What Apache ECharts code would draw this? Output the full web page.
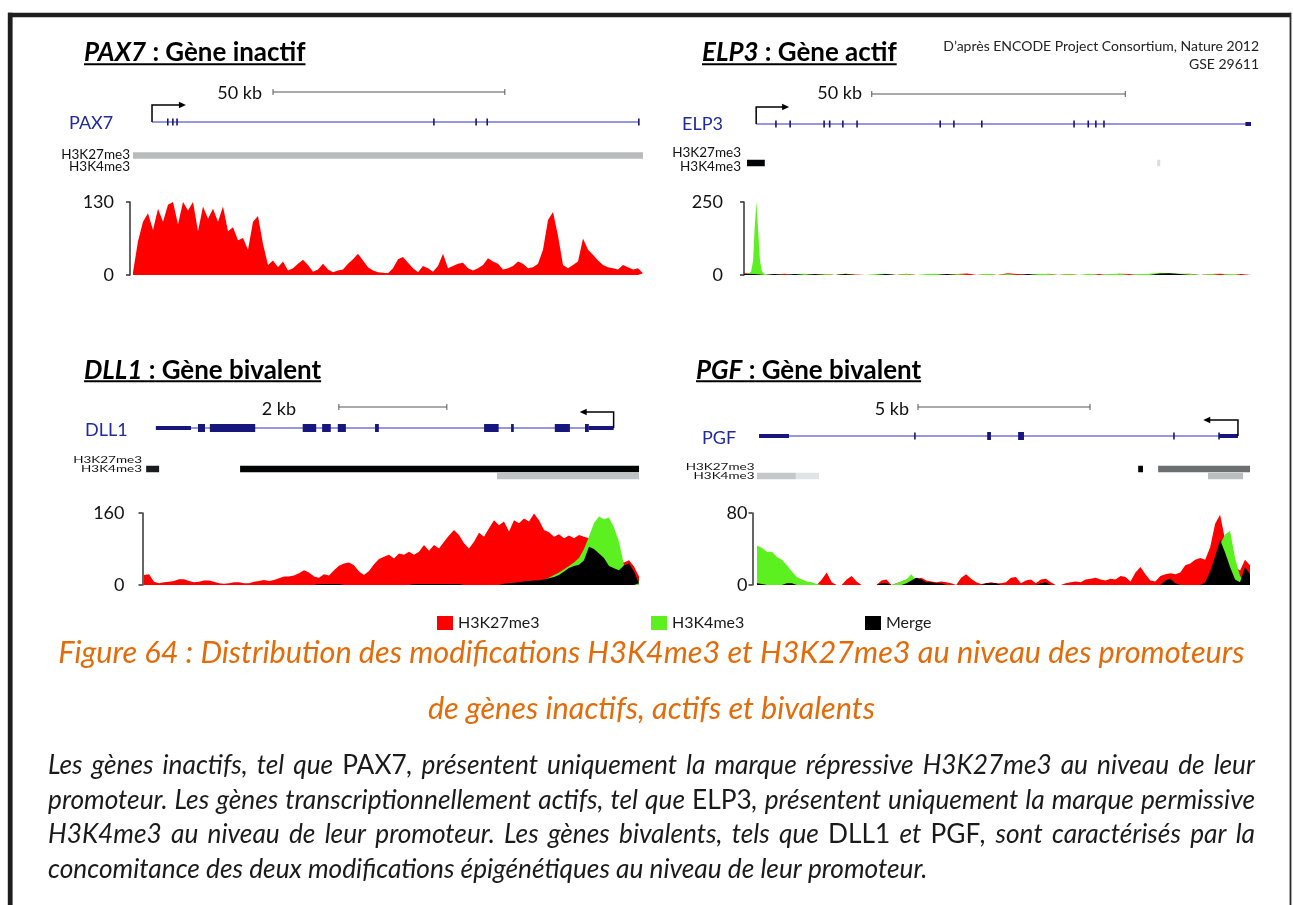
<!DOCTYPE html>
<html><head><meta charset="utf-8">
<script src="https://cdn.jsdelivr.net/npm/echarts@6/dist/echarts.min.js"></script>
<style>html,body{margin:0;padding:0;background:#fff}#c{width:1293px;height:905px}</style>
</head><body><div id="c"></div>
<script>
// ================= DATA =================
const legendNames = ['H3K27me3', 'H3K4me3', 'Merge'];
const chartMax = [130, 250, 160, 80];            // y-axis tick labels: 0 and max

// ---- PAX7 (inactive) : H3K27me3 signal, uniform samples across the window
const pax7Red = [5,60,95,110,80,118,95,125,130,90,
  130,115,130,78,122,100,118,95,122,78,
  85,62,66,45,95,105,55,18,26,14,
  24,8,12,20,27,18,6,10,20,10,
  5,8,10,20,28,38,26,14,8,5,
  4,3,12,28,32,22,12,5,16,12,
  6,16,38,12,16,20,22,12,8,12,
  18,30,24,20,10,12,16,24,20,12,
  14,20,45,98,112,70,18,12,18,24,
  65,45,36,26,18,14,12,10,18,14,
  10,12,3];

// ---- ELP3 (active) : H3K4me3 promoter peak (kb, value) + low background every 2 kb
const elp3PeakKb  = [0, 1.0, 1.4, 1.8, 2.1, 2.43, 2.8, 3.15, 3.5, 3.9, 4.4];
const elp3PeakVal = [4, 4, 12, 50, 160, 250, 150, 50, 14, 5, 2];
const elp3NoiseRed = [6,3,0,2,4,0,3,0,3,0, 4,2,0,0,3,0,4,0,0,3, 0,3,5,0,3,0,6,3,0,0, 4,0,3,0,0,3,0,4,3,0, 0,3,0,3,4,0,3,4,0,3, 0];
const elp3NoiseGreen = [0,0,0,3,0,3,4,0,3,0, 4,0,0,3,4,0,3,0,3,4, 0,3,0,0,4,0,3,0,0,4, 3,0,3,0,4,0,3,4,0,3, 4,8,6,4,3,0,3,0,3,0, 3];
const elp3NoiseBlack = [4,3,0,3,0,3,0,3,0,0, 3,0,0,0,3,0,0,0,0,0, 3,0,0,0,0,0,0,0,3,0, 0,0,0,0,0,0,0,0,0,0, 0,5,6,3,0,0,0,0,0,0, 0];

// ---- DLL1 (bivalent)
const dll1Red = [22,24,7,4,6,7,9,13,13,9,
  6,7,10,10,7,4,3,4,6,6,
  4,4,7,9,11,9,11,15,19,19,
  21,26,33,28,19,16,24,21,33,43,
  48,50,44,30,22,31,46,58,63,67,
  59,70,67,74,67,74,89,76,89,81,
  96,110,122,111,93,81,96,116,107,126,
  144,133,141,119,144,137,148,141,159,144,
  122,117,107,113,104,110,104,111,107,104,
  100,93,85,74,63,56,50,55,41,19];
const dll1Green = [0,0,0,0,0,0,0,0,0,0,
  0,0,0,0,0,0,0,0,0,0,
  0,0,0,0,0,0,0,0,0,0,
  0,0,0,0,0,0,0,0,0,0,
  0,0,0,0,0,0,0,0,0,0,
  0,0,0,0,0,0,0,0,0,0,
  0,0,0,0,0,0,0,0,0,0,
  0,0,0,0,0,0,0,0,0,8,
  12,16,22,28,35,42,50,60,80,108,
  138,152,146,150,128,96,44,36,25,5];
const dll1Black = [0,0,0,0,0,0,0,0,0,0,
  0,0,0,0,0,0,0,0,0,0,
  0,0,0,0,0,0,0,0,0,0,
  0,0,0,0,0,2,2,2,2,2,
  0,0,0,0,0,0,0,0,0,0,
  0,0,0,0,2,2,2,2,2,2,
  2,2,2,2,0,0,0,0,0,0,
  0,0,3,4,5,6,8,9,10,10,
  13,15,18,22,30,38,42,45,55,85,
  80,70,60,42,37,33,44,48,30,4];

// ---- PGF (bivalent)
const pgfRed = [0,0,0,0,0,0,0,0,0,0,
  0,0,0,6,14,3,0,0,6,10,
  4,0,0,0,0,5,6,0,2,4,
  6,9,7,8,5,4,3,4,3,2,
  0,8,12,7,3,1,2,3,2,2,
  3,8,9,2,5,6,2,6,7,3,
  0,0,2,3,4,3,6,7,8,6,
  5,7,6,10,9,4,14,20,12,5,
  4,10,12,13,12,14,22,24,28,30,
  28,42,68,78,50,35,20,16,28,22];
const pgfGreen = [44,41,37,37,31,28,22,15,9,6,
  4,3,1,0,0,0,0,0,0,0,
  0,0,0,0,0,0,0,0,2,4,
  6,12,5,0,0,0,0,0,0,0,
  0,0,0,0,0,0,0,0,0,0,
  0,0,0,0,0,0,0,0,0,0,
  0,0,0,0,0,0,0,0,0,0,
  0,0,0,0,0,0,0,0,0,0,
  0,0,0,0,0,0,0,0,0,0,
  0,5,20,45,56,60,30,10,3,0];
const pgfBlack = [2,1,0,0,0,0,2,2,0,0,
  0,0,0,0,0,0,0,0,0,0,
  0,0,0,0,0,2,2,0,0,0,
  2,5,8,6,3,3,2,2,0,0,
  0,0,0,0,0,0,2,2,2,0,
  0,0,0,0,0,0,0,2,3,0,
  0,0,0,0,0,0,0,0,0,0,
  0,0,0,0,0,0,0,0,0,0,
  0,0,5,7,2,0,0,0,0,0,
  3,15,32,50,36,20,6,3,20,12];

// ---- Gene tracks (positions in kb inside each window)
const pax7Span = 110, elp3Span = 100, dll1Span = 9.17, pgfSpan = 14.33;
const pax7ScaleBar = [30.2, 80.2], elp3ScaleBar = [25.2, 75.2], dll1ScaleBar = [3.61, 5.61], pgfScaleBar = [4.68, 9.68];
const scaleLabels = ['50 kb', '50 kb', '2 kb', '5 kb'];
const pax7Gene = [[4.1,109.1,'line'],[7.5,7.5,'tick'],[8.6,8.6,'tick'],[9.5,9.5,'tick'],[64.9,64.9,'tick'],[74.0,74.0,'tick'],[76.4,76.4,'tick'],[109.1,109.1,'tick']];
const elp3Gene = [[2.4,100,'line'],[6.3,6.3,'tick'],[9.1,9.1,'tick'],[15.8,15.8,'tick'],[16.9,16.9,'tick'],[19.5,19.5,'tick'],[22.3,22.3,'tick'],[38.7,38.7,'tick'],[41.4,41.4,'tick'],[46.9,46.9,'tick'],[65.1,65.1,'tick'],[67.9,67.9,'tick'],[69.4,69.4,'tick'],[71.0,71.0,'tick'],[98.9,100,'utr']];
const dll1Gene = [[0.22,8.70,'line'],[0.22,0.87,'utr'],[1.0,1.13,'exon'],[1.22,2.06,'exon'],[2.94,3.19,'exon'],[3.30,3.46,'exon'],[3.59,3.74,'exon'],[4.28,4.35,'exon'],[6.30,6.57,'exon'],[6.80,6.85,'exon'],[7.61,7.89,'exon'],[8.17,8.24,'exon'],[8.24,8.70,'utr']];
const pgfGene = [[0.06,13.98,'line'],[0.06,0.93,'utr'],[4.59,4.59,'tick'],[6.69,6.80,'exon'],[7.59,7.76,'exon'],[12.12,12.12,'tick'],[13.43,13.43,'tick'],[13.43,13.98,'utr']];
const pax7Tss = [4.1, 11.2], elp3Tss = [2.4, 8.7], dll1Tss = [8.70, 8.09], pgfTss = [13.98, 13.0];
const geneNames = ['PAX7', 'ELP3', 'DLL1', 'PGF'];
// chromatin-state segments: [start kb, end kb, mark row, signal level 0..1]
const pax7Marks = [[0,110,'K27',0.28]];
const elp3Marks = [[0.6,4.1,'K4',1],[81.5,82.1,'K4',0.15]];
const dll1Marks = [[0.04,0.28,'K27',0.9],[1.78,9.17,'K27',1],[6.54,9.17,'K4',0.25]];
const pgfMarks = [[0,1.13,'K4',0.23],[1.13,1.80,'K4',0.12],[11.08,11.22,'K27',1],[11.66,14.33,'K27',0.58],[13.11,14.13,'K4',0.27]];

// ---- Texts
const titleParts = [['PAX7',' : Gène inactif'],['ELP3',' : Gène actif'],['DLL1',' : Gène bivalent'],['PGF',' : Gène bivalent']];
const citation = ['D’après ENCODE Project Consortium, Nature 2012', 'GSE 29611'];
const caption = ['Figure 64 : Distribution des modifications H3K4me3 et H3K27me3 au niveau des promoteurs', 'de gènes inactifs, actifs et bivalents'];
const paragraph = [
  'Les gènes inactifs, tel que {PAX7}, présentent uniquement la marque répressive H3K27me3 au niveau de leur',
  'promoteur. Les gènes transcriptionnellement actifs, tel que {ELP3}, présentent uniquement la marque permissive',
  'H3K4me3 au niveau de leur promoteur. Les gènes bivalents, tels que {DLL1} et {PGF}, sont caractérisés par la',
  'concomitance des deux modifications épigénétiques au niveau de leur promoteur.'
];

// ================= LAYOUT / STYLE =================
const RED = '#ff0000', GREEN = '#5cf020', BLACK = '#000000';
const GENE_LINE = '#2f2fc8', EXON = '#16167c', GENE_LABEL = '#1f2a9e';
const FAM = 'Lato';
const panels = [
  {span:pax7Span, scale:pax7ScaleBar, gene:pax7Gene, tss:pax7Tss, marks:pax7Marks, trackTop:80, rows:{scale:12, gene:42, K27:75.5, K4:83}, rise:17,
   left:133, width:510, chartTop:202, chartH:73, axisOffset:3, labelMargin:16,
   title:{x:84, y:52.5, ul:63.2}, scaleLab:{x:262, y:93}, geneLab:{x:69, y:123}, markLab:{x:130, k27:154.5, k4:167, sy:1}},
  {span:elp3Span, scale:elp3ScaleBar, gene:elp3Gene, tss:elp3Tss, marks:elp3Marks, trackTop:80, rows:{scale:14, gene:44, K27:73.5, K4:83}, rise:17,
   left:744, width:507, chartTop:202, chartH:73, axisOffset:3, labelMargin:18,
   title:{x:702, y:52.5, ul:63.2}, scaleLab:{x:862, y:93}, geneLab:{x:682, y:124}, markLab:{x:741, k27:153, k4:167, sy:1}},
  {span:dll1Span, scale:dll1ScaleBar, gene:dll1Gene, tss:dll1Tss, marks:dll1Marks, trackTop:395, rows:{scale:12, gene:33, K27:74, K4:81}, rise:16,
   left:144, width:495, chartTop:513, chartH:72, axisOffset:1.5, labelMargin:18,
   title:{x:84, y:371, ul:380.2}, scaleLab:{x:296, y:409}, geneLab:{x:85, y:430}, markLab:{x:142, k27:459.5, k4:468.5, sy:0.74}},
  {span:pgfSpan, scale:pgfScaleBar, gene:pgfGene, tss:pgfTss, marks:pgfMarks, trackTop:395, rows:{scale:12, gene:41, K27:74, K4:81}, rise:16,
   left:757, width:493, chartTop:513, chartH:72, axisOffset:4.5, labelMargin:5,
   title:{x:696, y:371, ul:380.2}, scaleLab:{x:909, y:409}, geneLab:{x:702, y:438}, markLab:{x:754.5, k27:467, k4:476, sy:0.74}}
];

// ---- text helpers
const ctx2d = document.createElement('canvas').getContext('2d');
function F(size, style, weight) { return (style || 'normal') + ' ' + (weight || 'normal') + ' ' + size + 'px ' + FAM; }
function W(text, font) { ctx2d.font = font; return ctx2d.measureText(text).width; }
function T(x, y, text, font, fill, align, sy) {
  return {type:'text', x:x, y:y, scaleY:sy || 1, silent:true, z:10,
    style:{text:text, font:font, fill:fill, align:align || 'left', verticalAlign:'middle', textAlign:align || 'left', textVerticalAlign:'middle'}};
}
function parseWords(line) {
  return line.split(' ').map(w => w.split(/(\{[^}]*\})/).filter(s => s).map(s => s[0] === '{' ? {t:s.slice(1, -1), up:true} : {t:s, up:false}));
}
function pieceFont(pc, size) { return pc.up ? F(size) : F(size, 'italic'); }
function layoutLine(line, x0, x1, y, size, justify, fill) {
  const words = parseWords(line);
  const ws = words.map(w => w.reduce((s, pc) => s + W(pc.t, pieceFont(pc, size)), 0));
  const total = ws.reduce((a, b) => a + b, 0);
  const gap = justify ? (x1 - x0 - total) / (words.length - 1) : W(' ', F(size, 'italic'));
  let x = x0; const out = [];
  words.forEach((w, i) => {
    let xx = x;
    w.forEach(pc => { out.push(T(xx, y, pc.t, pieceFont(pc, size), fill, 'left')); xx += W(pc.t, pieceFont(pc, size)); });
    x += ws[i] + gap;
  });
  return out;
}
function shade(level) { const v = Math.round(255 * (1 - level)); const w = Math.min(255, v + 4); return 'rgb(' + v + ',' + w + ',' + w + ')'; }

// ================= BUILD =================
const graphics = [];
// frame
graphics.push({type:'rect', silent:true, shape:{x:8, y:12.8, width:1283, height:4.5}, style:{fill:'#1e1e1e'}});
graphics.push({type:'rect', silent:true, shape:{x:7.8, y:12.8, width:4.8, height:893}, style:{fill:'#1e1e1e'}});
graphics.push({type:'rect', silent:true, shape:{x:1289.6, y:12.8, width:1.8, height:893}, style:{fill:'#2a2a2a'}});

// titles (fit size to the reference widths)
const titleTargets = [220, 191, 237, 231];
let tw = 0; titleParts.forEach(tp => { tw += W(tp[0], F(24, 'italic', 'bold')) + W(tp[1], F(24, 'normal', 'bold')); });
const tSize = 24 * titleTargets.reduce((a, b) => a + b, 0) / tw;
panels.forEach((p, k) => {
  const tp = titleParts[k];
  const f1 = F(tSize, 'italic', 'bold'), f2 = F(tSize, 'normal', 'bold');
  const w1 = W(tp[0], f1), w2 = W(tp[1], f2);
  graphics.push(T(p.title.x, p.title.y, tp[0], f1, '#000', 'left'));
  graphics.push(T(p.title.x + w1, p.title.y, tp[1], f2, '#000', 'left'));
  graphics.push({type:'rect', silent:true, shape:{x:p.title.x, y:p.title.ul, width:w1 + w2, height:2}, style:{fill:'#000'}});
  graphics.push(T(p.scaleLab.x, p.scaleLab.y, scaleLabels[k], F(18), '#111', 'right'));
  graphics.push(T(p.geneLab.x, p.geneLab.y, geneNames[k], F(18), GENE_LABEL, 'left'));
  graphics.push(T(p.markLab.x, p.markLab.k27, 'H3K27me3', F(13.5), '#111', 'right', p.markLab.sy));
  graphics.push(T(p.markLab.x, p.markLab.k4, 'H3K4me3', F(13.5), '#111', 'right', p.markLab.sy));
});
graphics.push(T(1259, 46, citation[0], F(14), '#222', 'right'));
graphics.push(T(1259, 64.5, citation[1], F(14), '#222', 'right'));

// caption
const capSize = 26 * 1187 / W(caption[0], F(26, 'italic'));
graphics.push(T(651.4, 653.5, caption[0], F(capSize, 'italic'), '#e36c0a', 'center'));
graphics.push(T(651.4, 709, caption[1], F(capSize, 'italic'), '#e36c0a', 'center'));
// paragraph (justified)
const parSize = 20 * 880 / W(paragraph[3], F(20, 'italic'));
const parY = [766, 800.5, 835, 869.5];
paragraph.forEach((line, i) => { layoutLine(line, 48, 1255, parY[i], parSize, i < 3, '#1a1a1a').forEach(e => graphics.push(e)); });

const option = {animation:false, backgroundColor:'#fff', grid:[], xAxis:[], yAxis:[], series:[], graphic:graphics,
  legend: legendNames.map((n, i) => ({data:[n], left:[437, 651, 865][i], top:615, padding:0, itemWidth:16, itemHeight:14, icon:'rect', selectedMode:false,
    textStyle:{fontFamily:FAM, fontSize:16, color:'#1a1a1a'}}))};

function area(name, color, data, gi) {
  return {type:'line', name:name, xAxisIndex:gi, yAxisIndex:gi, data:data, symbol:'none', showSymbol:false, color:color,
    itemStyle:{color:color}, lineStyle:{width:0, color:color}, areaStyle:{color:color, opacity:1}, silent:true};
}

const chartData = [
  [[legendNames[0], RED, pax7Red]],
  null,
  [[legendNames[0], RED, dll1Red], [legendNames[1], GREEN, dll1Green], [legendNames[2], BLACK, dll1Black]],
  [[legendNames[0], RED, pgfRed], [legendNames[1], GREEN, pgfGreen], [legendNames[2], BLACK, pgfBlack]]
];

panels.forEach((p, k) => {
  const gt = 2 * k, gc = 2 * k + 1;
  // track grid
  option.grid.push({left:p.left, top:p.trackTop, width:p.width, height:100});
  option.xAxis.push({type:'value', gridIndex:gt, min:0, max:p.span, show:false});
  option.yAxis.push({type:'value', gridIndex:gt, min:0, max:100, inverse:true, show:false});
  // chart grid
  option.grid.push({left:p.left, top:p.chartTop, width:p.width, height:p.chartH});
  if (k === 1) option.xAxis.push({type:'value', gridIndex:gc, min:0, max:p.span, show:false});
  else option.xAxis.push({type:'category', gridIndex:gc, boundaryGap:false, data:chartData[k][0][2].map((_, i) => i), show:false});
  option.yAxis.push({type:'value', gridIndex:gc, min:0, max:chartMax[k], interval:chartMax[k], offset:p.axisOffset,
    axisLine:{show:true, lineStyle:{color:'#333', width:1.5}}, axisTick:{show:true, length:4, lineStyle:{color:'#333', width:1.5}},
    axisLabel:{fontFamily:FAM, fontSize:18, color:'#111', margin:p.labelMargin}, splitLine:{show:false}});

  // scale bar
  option.series.push({type:'custom', xAxisIndex:gt, yAxisIndex:gt, silent:true, data:[[p.scale[0], p.scale[1]]],
    renderItem:(params, api) => {
      const a = api.coord([api.value(0), p.rows.scale]), b = api.coord([api.value(1), p.rows.scale]);
      return {type:'group', children:[
        {type:'line', shape:{x1:a[0], y1:a[1], x2:b[0], y2:b[1]}, style:{stroke:'#555', lineWidth:1}},
        {type:'line', shape:{x1:a[0], y1:a[1] - 3, x2:a[0], y2:a[1] + 3}, style:{stroke:'#555', lineWidth:1}},
        {type:'line', shape:{x1:b[0], y1:b[1] - 3, x2:b[0], y2:b[1] + 3}, style:{stroke:'#555', lineWidth:1}}]};
    }});
  // gene model
  option.series.push({type:'custom', xAxisIndex:gt, yAxisIndex:gt, silent:true, data:p.gene.map(f => [f[0], f[1]]),
    renderItem:(params, api) => {
      const f = p.gene[params.dataIndex];
      const a = api.coord([api.value(0), p.rows.gene]), b = api.coord([api.value(1), p.rows.gene]);
      if (f[2] === 'line') return {type:'line', shape:{x1:a[0], y1:a[1], x2:b[0], y2:b[1]}, style:{stroke:GENE_LINE, lineWidth:1}};
      const h = f[2] === 'exon' ? 8 : (f[2] === 'utr' ? 4 : 7);
      const w = Math.max(b[0] - a[0], 1.6);
      const x = f[2] === 'tick' ? a[0] - 0.8 : a[0];
      return {type:'rect', shape:{x:x, y:a[1] - h / 2, width:w, height:h}, style:{fill:EXON}};
    }});
  // TSS arrow
  option.series.push({type:'custom', xAxisIndex:gt, yAxisIndex:gt, silent:true, data:[[p.tss[0], p.tss[1]]],
    renderItem:(params, api) => {
      const a = api.coord([api.value(0), p.rows.gene]), b = api.coord([api.value(1), p.rows.gene]);
      const yt = a[1] - p.rise, d = b[0] > a[0] ? 1 : -1;
      return {type:'group', children:[
        {type:'polyline', shape:{points:[[a[0], a[1]], [a[0], yt], [b[0] - d * 3, yt]]}, style:{stroke:'#000', lineWidth:1.5, fill:null}},
        {type:'polygon', shape:{points:[[b[0] + d, yt], [b[0] - d * 6, yt - 3.2], [b[0] - d * 6, yt + 3.2]]}, style:{fill:'#000'}}]};
    }});
  // chromatin marks
  option.series.push({type:'custom', xAxisIndex:gt, yAxisIndex:gt, silent:true, data:p.marks.map(m => [m[0], m[1]]),
    renderItem:(params, api) => {
      const m = p.marks[params.dataIndex];
      const a = api.coord([api.value(0), p.rows[m[2]]]), b = api.coord([api.value(1), p.rows[m[2]]]);
      return {type:'rect', shape:{x:a[0], y:a[1] - 3.25, width:Math.max(b[0] - a[0], 1.5), height:6.5}, style:{fill:shade(m[3])}};
    }});

  // signal areas
  if (k === 1) {
    option.series.push(area(legendNames[0], RED, elp3NoiseRed.map((v, i) => [i * 2, v]), gc));
    option.series.push(area(legendNames[1], GREEN, elp3NoiseGreen.map((v, i) => [i * 2, v]), gc));
    option.series.push(area(legendNames[1], GREEN, elp3PeakKb.map((x, i) => [x, elp3PeakVal[i]]), gc));
    option.series.push(area(legendNames[2], BLACK, elp3NoiseBlack.map((v, i) => [i * 2, v]), gc));
  } else {
    chartData[k].forEach(s => option.series.push(area(s[0], s[1], s[2], gc)));
  }
});

const chart = echarts.init(document.getElementById('c'), null, {renderer:'canvas'});
chart.setOption(option);
</script></body></html>
